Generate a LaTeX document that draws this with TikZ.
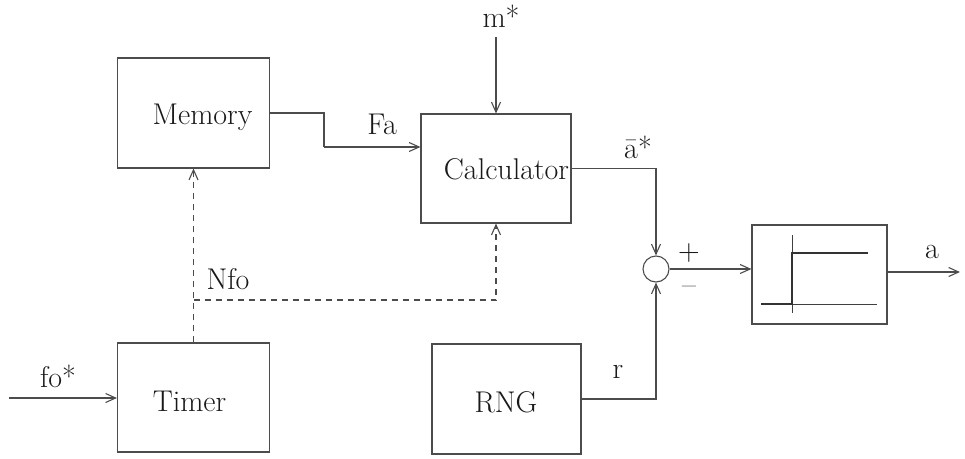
\documentclass[tikz,border=0pt]{standalone}
\usetikzlibrary{arrows.meta}
\begin{document}
\begin{tikzpicture}[x=1pt,y=-1pt,
  every node/.style={font=\fontsize{30}{36}\selectfont, text=black!90},
  blk/.style={draw=black!70, line width=1.1pt, inner sep=0pt},
  ln/.style={draw=black!70, line width=1.1pt},
  arr/.style={ln, -{Straight Barb[length=10pt,width=9pt,line width=1.1pt]}},
  dsh/.style={dash pattern=on 6pt off 5pt},
  txt/.style={anchor=base, inner sep=0pt}]
\useasboundingbox (0,0) rectangle (965,458);
% blocks
\node[blk, minimum width=152pt, minimum height=110pt] (mem) at (193.5,113) {};
\node[blk, minimum width=150pt, minimum height=109pt] (calc) at (496,168.5) {};
\node[blk, minimum width=152pt, minimum height=109pt] (timer) at (193.5,397.5) {};
\node[blk, minimum width=149pt, minimum height=110pt] (rng) at (506.5,399) {};
\node[blk, minimum width=135pt, minimum height=99pt] (step) at (819.5,274.5) {};
\node[blk, circle, minimum size=26pt] (sum) at (656,269) {};
% block texts
\node[txt] (tmem) at (202.5,124) {Memory};
\node[txt] (tcalc) at (506.5,179) {Calculator};
\node[txt] (ttimer) at (189.5,411) {Timer};
\node[txt] (trng) at (506,412) {RNG};
% step graph
\draw[line width=0.9pt, black!75] (792,235) -- (792,313);
\draw[line width=0.9pt, black!75] (761,304) -- (877,304);
\draw[line width=2.4pt, black!80] (761,304) -- (792,304) -- (792,253) -- (868,253);
% free ends
\coordinate (min) at (496,37);
\coordinate (fin) at (9,398);
\coordinate (aout) at (960,272);
\coordinate (fa) at (324,147);
\coordinate (nfo) at (193.5,300);
% connectors
\draw[arr] (min) -- (calc.north);
\draw[ln] (mem.east) -| (fa);
\draw[arr] (fa) -- (fa -| calc.west);
\draw[arr] (calc.east) -| (sum.north);
\draw[arr] (rng.east) -| (sum.south);
\draw[arr] (sum.east) -- (sum.east -| step.west);
\draw[arr] (aout -| step.east) -- (aout);
\draw[arr] (fin) -- (fin -| timer.west);
\draw[arr, dsh] (timer.north) -- (mem.south);
\draw[arr, dsh] (nfo) -| (calc.south);
% labels
\node[txt] (lm) at (501,27) {m*};
\node[txt] (lfa) at (382,134) {Fa};
\node[txt] (la) at (638,158) {\={a}*};
\node[txt] (lfo) at (58,387) {fo*};
\node[txt] (lnfo) at (228,289) {Nfo};
\node[txt] (lr) at (618,378) {r};
\node[txt] (lout) at (932,258) {a};
\node (lplus) at (689,253) {+};
\node (lminus) at (689,290) {--};
\end{tikzpicture}
\end{document}
